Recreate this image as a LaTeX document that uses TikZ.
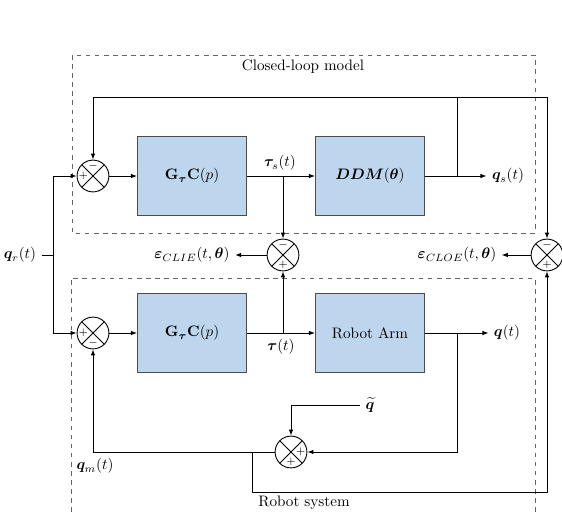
\documentclass[tikz,border=0pt]{standalone}
\usepackage{amsmath,bm}
\usetikzlibrary{arrows.meta}
\definecolor{blockblue}{RGB}{189,214,238}
\tikzset{
  block/.style={draw=black!70, fill=blockblue, line width=0.6pt, minimum width=72pt, minimum height=52pt},
  sumnode/.style={circle, draw, minimum size=21pt, inner sep=0pt,
    path picture={\draw (path picture bounding box.north west) -- (path picture bounding box.south east)
                        (path picture bounding box.north east) -- (path picture bounding box.south west);}},
  sign/.style={font=\scriptsize, inner sep=0pt},
  region/.style={draw=black!60, dashed, line width=0.5pt},
}
\begin{document}
\begin{tikzpicture}[x=0.66pt, y=-0.66pt, line width=0.6pt, >={Latex[length=4pt,width=3pt]}]
\useasboundingbox (0,0) rectangle (562,512);

%dashed regions
\draw[region] (72,55) rectangle (535,233);
\draw[region] (71,512) -- (71,278) -- (535,278) -- (535,512);
\node (cltitle) at (303,67) {Closed-loop model};
\node (rstitle) at (304,503) {Robot system};

%blocks
\node[block] (c1) at (192,176) {$\mathbf{G}_{\bm{\tau}}\mathbf{C}(p)$};
\node[block] (ddm) at (370,176) {$\bm{DDM}(\bm{\theta})$};
\node[block] (c2) at (192,333) {$\mathbf{G}_{\bm{\tau}}\mathbf{C}(p)$};
\node[block] (arm) at (370,333) {Robot Arm};

%summing points
\node[sumnode] (s1) at (93,176) {};
\node[sumnode] (s2) at (93,333) {};
\node[sumnode] (clie) at (283,255) {};
\node[sumnode] (cloe) at (547,255) {};
\node[sumnode] (s3) at (291,452) {};

%signs
\node[sign] (s1a) at ([yshift=6.5pt]s1.center) {$-$};
\node[sign] (s1b) at ([xshift=-6.5pt]s1.center) {$+$};
\node[sign] (s2a) at ([xshift=-6.5pt]s2.center) {$+$};
\node[sign] (s2b) at ([yshift=-6.5pt]s2.center) {$-$};
\node[sign] (clia) at ([yshift=6.5pt]clie.center) {$-$};
\node[sign] (clib) at ([yshift=-6.5pt]clie.center) {$+$};
\node[sign] (cloa) at ([yshift=6.5pt]cloe.center) {$-$};
\node[sign] (clob) at ([yshift=-6.5pt]cloe.center) {$+$};
\node[sign] (s3a) at ([xshift=6.5pt]s3.center) {$+$};
\node[sign] (s3b) at ([yshift=-6.5pt]s3.center) {$+$};

%signals
\node (qr) at (20,255) {$\bm{q}_r(t)$};
\node (ts) at (280,163) {$\bm{\tau}_s(t)$};
\node (qs) at (508,176) {$\bm{q}_s(t)$};
\node (eclie) at (192,255) {$\bm{\varepsilon}_{CLIE}(t,\bm{\theta})$};
\node (ecloe) at (457,255) {$\bm{\varepsilon}_{CLOE}(t,\bm{\theta})$};
\node (tau) at (281,347) {$\bm{\tau}(t)$};
\node (q) at (507,333) {$\bm{q}(t)$};
\node (qn) at (370,405) {$\widetilde{\bm{q}}$};
\node (qm) at (95,466) {$\bm{q}_m(t)$};

\coordinate (jr) at (53,255);
\coordinate (bts) at (283,176);
\coordinate (bqs) at (457,176);
\coordinate (tl) at (93,97);
\coordinate (tr) at (547,97);
\coordinate (bt) at (283,333);
\coordinate (bq) at (457,333);
\coordinate (bm) at (252,452);
\coordinate (lr) at (547,492);

%closed-loop model
\draw (qr) -- (jr);
\draw[->] (jr) |- (s1);
\draw[->] (jr) |- (s2);
\draw[->] (s1) -- (c1);
\draw (c1) -- (bts);
\draw[->] (bts) -- (ddm);
\draw[->] (bts) -- (clie);
\draw[->] (ddm) -- (qs);
\draw[->] (bqs) |- (tl) -- (s1);
\draw[->] (bqs) |- (tr) -- (cloe);
\draw[->] (clie) -- (eclie);
\draw[->] (cloe) -- (ecloe);

%robot system
\draw[->] (s2) -- (c2);
\draw (c2) -- (bt);
\draw[->] (bt) -- (arm);
\draw[->] (bt) -- (clie);
\draw[->] (arm) -- (q);
\draw[->] (bq) |- (s3);
\draw[->] (qn) -| (s3);
\draw[->] (s3) -| (s2);
\draw[->] (bm) |- (lr) -- (cloe);
\end{tikzpicture}
\end{document}
